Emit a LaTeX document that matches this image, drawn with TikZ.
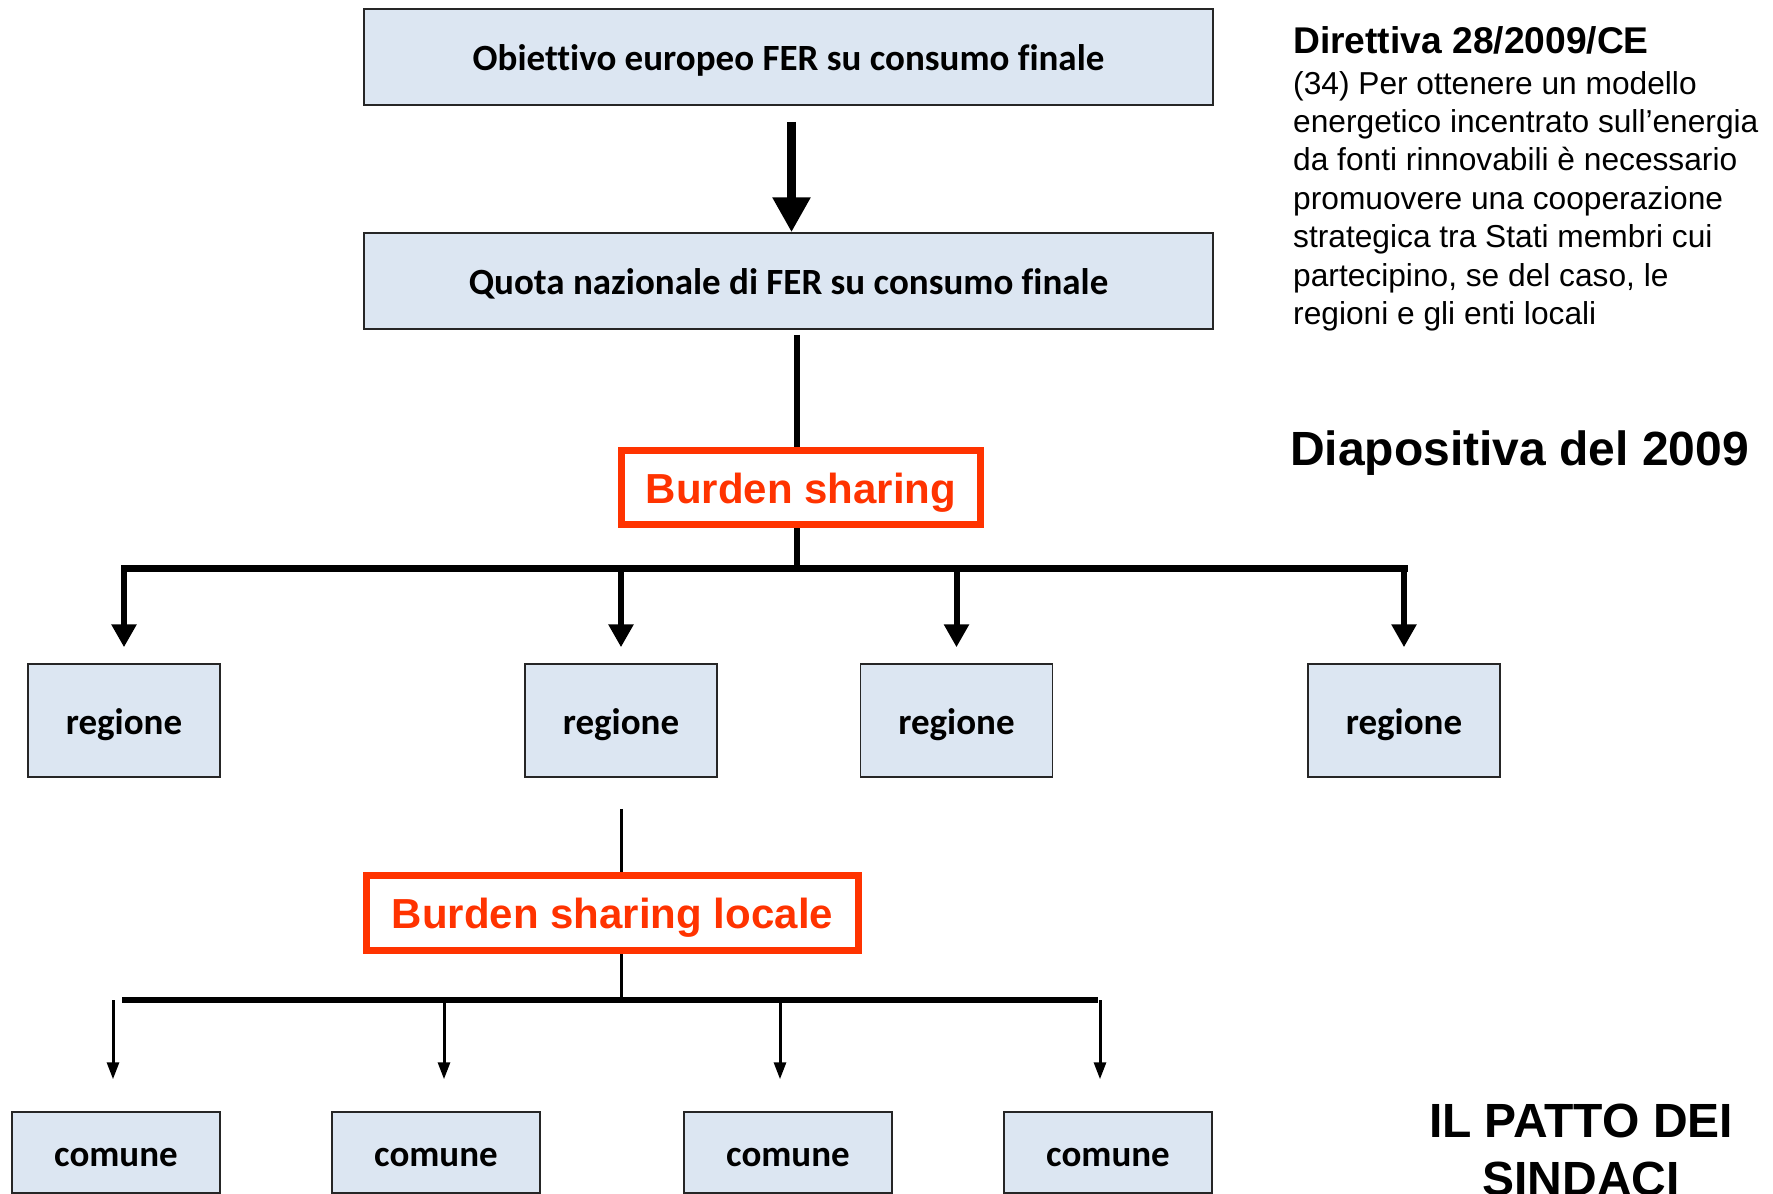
\documentclass[tikz,border=0pt]{standalone}
\usepackage{fontspec}
\setmainfont{Liberation Sans}
\newfontfamily\calibri[Ligatures=NoCommon]{Carlito}
\usetikzlibrary{arrows.meta}

\definecolor{boxblue}{RGB}{220,230,242}
\definecolor{burdenred}{RGB}{255,51,0}

\tikzset{
  bluebox/.style={draw=black!85, line width=1.5pt, fill=boxblue, inner sep=0pt,
    text height=27pt, text depth=0pt,
    font=\calibri\bfseries\fontsize{37}{44}\selectfont},
  burdenbox/.style={draw=burdenred, line width=7pt, fill=white, text=burdenred,
    inner sep=0pt, text height=31pt, text depth=0pt,
    font=\bfseries\fontsize{42}{50}\selectfont},
  bigarrow/.style={line width=9pt, -{Triangle[length=35pt,width=36pt]}},
  midarrow/.style={line width=6pt, -{Triangle[length=23pt,width=24pt]}},
  thinarrow/.style={line width=3pt, -{Triangle[length=17pt,width=12pt]}}
}

\begin{document}
\begin{tikzpicture}[x=1pt,y=-1pt]
  \useasboundingbox (0,0) rectangle (1773,1194);
  \clip (0,0) rectangle (1773,1194);

  \node[bluebox, minimum width=849pt, minimum height=96pt] (obiettivo) at (788.5,57) {Obiettivo europeo FER su consumo finale};
  \node[bluebox, minimum width=849pt, minimum height=96pt] (quota) at (788.5,281) {Quota nazionale di FER su consumo finale};
  \draw[bigarrow] ([xshift=3pt,yshift=-16pt]obiettivo.south) -- ([xshift=3pt]quota.north);

  \node[burdenbox, minimum width=359pt, minimum height=74pt] (burden) at (801,487.5) {Burden sharing};
  \coordinate (bar) at (0,568);
  \coordinate (bar2) at (0,1000);

  \foreach \x [count=\i] in {124,621,956.5,1404}
    \node[bluebox, minimum width=192pt, minimum height=113pt] (reg\i) at (\x,720.5) {regione};

  \draw[line width=6pt] ([xshift=-4pt,yshift=-5pt]quota.south -| burden.north) -- ([xshift=-4pt]burden.north);
  \draw[line width=6pt] ([xshift=-4pt]burden.south) -- ([xshift=-4pt]burden.south |- bar);
  \draw[line width=7pt, line cap=rect] (reg1.north |- bar) -- (reg4.north |- bar);
  \foreach \i in {1,...,4}
    \draw[midarrow] (reg\i.north |- bar) -- ([yshift=16pt]reg\i.north);

  \node[burdenbox, minimum width=492pt, minimum height=75pt] (locale) at (612.5,913) {Burden sharing locale};
  \draw[line width=3pt] ([yshift=-31pt]reg2.south) -- (reg2.south |- locale.north);
  \draw[line width=3pt] (reg2.south |- locale.south) -- (reg2.south |- bar2);

  \foreach \x [count=\i] in {116,436,788,1108}
    \node[bluebox, minimum width=208pt, minimum height=81pt] (com\i) at (\x,1152.5) {comune};
  \draw[line width=6pt] ([xshift=6pt]com1.north |- bar2) -- ([xshift=-10pt]com4.north |- bar2);
  \foreach \i/\dx in {1/-3,2/8,3/-8,4/-8}
    \draw[thinarrow] ([xshift=\dx pt]com\i.north |- bar2) -- ([xshift=\dx pt,yshift=32pt]com\i.north);

  % testo a destra
  \node[anchor=base west, inner sep=0pt, font=\bfseries\fontsize{37.2}{44}\selectfont] (direttiva) at (1293,53) {Direttiva 28/2009/CE};
  \foreach \riga [count=\i] in {{(34) Per ottenere un modello}, {energetico incentrato sull’energia},
      {da fonti rinnovabili è necessario}, {promuovere una cooperazione},
      {strategica tra Stati membri cui}, {partecipino, se del caso, le}, {regioni e gli enti locali}}
    \node[anchor=base west, inner sep=0pt, font=\fontsize{31.7}{38}\selectfont] (testo\i) at (1293,{94+38.4*(\i-1)}) {\riga};

  \node[anchor=base west, inner sep=0pt, font=\bfseries\fontsize{48}{58}\selectfont] (diapositiva) at (1290,465) {Diapositiva del 2009};
  \node[anchor=base, inner sep=0pt, font=\bfseries\fontsize{48}{58}\selectfont] (patto) at (1581,1137) {IL PATTO DEI};
  \node[anchor=base, inner sep=0pt, font=\bfseries\fontsize{48}{58}\selectfont] (sindaci) at (1581,1195) {SINDACI};
\end{tikzpicture}
\end{document}
